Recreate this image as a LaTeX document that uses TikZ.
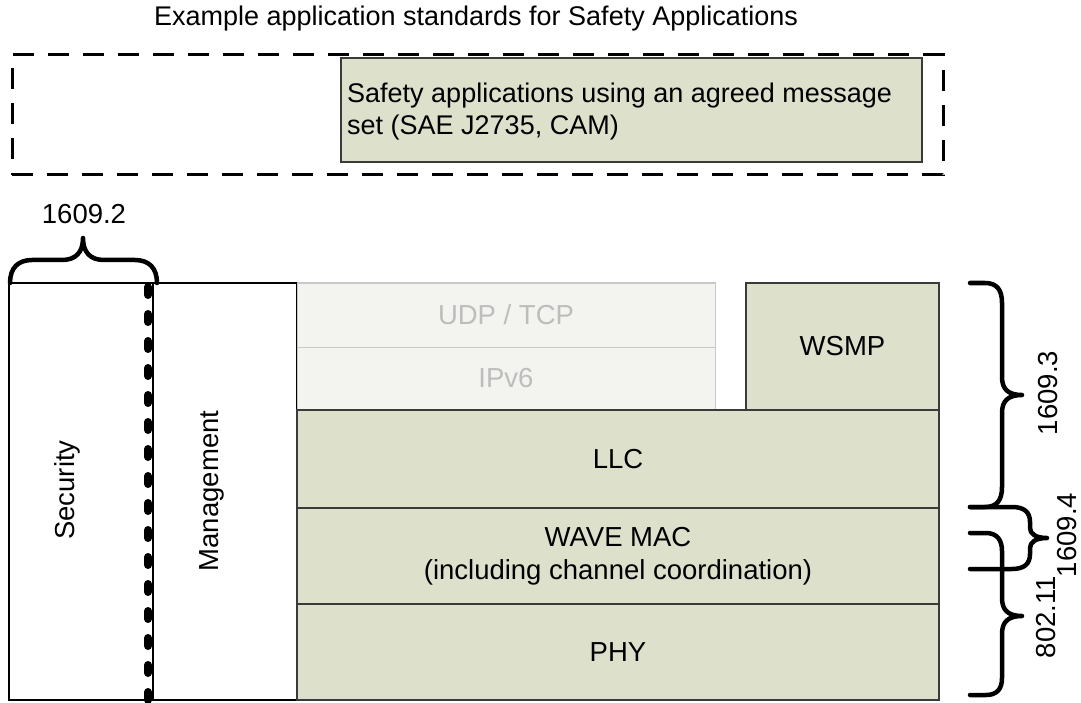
\documentclass[tikz,border=0pt]{standalone}
\usepackage{fontspec}
\setmainfont{Liberation Sans}
\definecolor{boxgreen}{HTML}{DDE1CC}
\definecolor{boxborder}{HTML}{3A3A3A}
\definecolor{lightfill}{HTML}{F3F3EF}
\definecolor{lightborder}{HTML}{C8C8C8}
\definecolor{lighttext}{HTML}{BDBDBD}
\newcommand\fsBody{\fontsize{27.5}{33}\selectfont}
\newcommand\fsApp{\fontsize{27}{32}\selectfont}
\newcommand\fsTitle{\fontsize{27}{32}\selectfont}
\begin{document}
\begin{tikzpicture}[x=1pt,y=-1pt,
  box/.style={inner sep=0pt, outer sep=0pt, anchor=north west, font=\fsBody, align=center},
  layer/.style={box, draw=boxborder, fill=boxgreen, line width=1.3pt},
  ghost/.style={box, draw=lightborder, fill=lightfill, line width=1pt, text=lighttext},
  plain/.style={box, draw=black, fill=white, line width=1.1pt},
  lbl/.style={font=\fsBody, inner sep=0pt},
  brace/.style={draw=black, line width=4.5pt, line cap=round, line join=round},
]
\useasboundingbox (0,0) rectangle (1081,703);

% title and application group
\node[font=\fsTitle, inner sep=0pt] (title) at (476,19) {Example application standards for Safety Applications};
\node[box, draw=black, line width=3pt, dash pattern=on 21pt off 14pt,
      minimum width=931pt, minimum height=120pt] (appgroup) at (12,55) {};
\node[layer, line width=1.2pt, minimum width=581pt, minimum height=104pt] (safety) at (341,58) {};
\node[font=\fsApp, inner sep=0pt, anchor=north west, align=left] (safetytxt) at (347,83)
  {Safety applications using an agreed message\\set (SAE J2735, CAM)};

% left columns
\node[plain, minimum width=144pt, minimum height=417pt] (security) at (9,283) {};
\node[plain, minimum width=144pt, minimum height=417pt] (management) at (153,283) {};
\node[lbl, rotate=90] (seclbl) at (67,490) {Security};
\node[lbl, rotate=90] (mgmtlbl) at (212,491) {Management};
\coordinate (dtop) at (148,287);
\coordinate (dbot) at (148,706);
\draw[line width=8pt, dash pattern=on 8pt off 19pt, line cap=round] (dtop) -- (dbot);

% stack
\node[ghost, minimum width=418pt, minimum height=64pt] (udp) at (297,283) {UDP / TCP};
\node[ghost, minimum width=418pt, minimum height=63pt] (ipv6) at (297,347) {IPv6};
\node[layer, minimum width=193pt, minimum height=127pt] (wsmp) at (746,283) {WSMP};
\node[layer, minimum width=642pt, minimum height=98pt] (llc) at (297,410) {LLC};
\node[layer, minimum width=642pt, minimum height=96pt] (mac) at (297,508) {WAVE MAC\\(including channel coordination)};
\node[layer, minimum width=642pt, minimum height=96pt] (phy) at (297,604) {PHY};

% 1609.2 brace
\draw[brace] (10,283) .. controls (10,268) and (18,260) .. (32,260) -- (62,260)
  .. controls (76,260) and (83,252) .. (83,238)
  .. controls (83,252) and (90,260) .. (104,260) -- (135,260)
  .. controls (149,260) and (157,268) .. (157,283);
\node[lbl] (l16092) at (84,214) {1609.2};

% right braces
\draw[brace] (970,283) -- (985,283) .. controls (997,283) and (1002,290) .. (1002,303) -- (1002,377)
  .. controls (1002,389) and (1008,395) .. (1022,395)
  .. controls (1008,395) and (1002,401) .. (1002,413) -- (1002,487)
  .. controls (1002,500) and (997,507) .. (985,507) -- (970,507);
\draw[brace] (970,507) -- (1012,507) .. controls (1024,507) and (1030,512) .. (1030,522) -- (1030,528)
  .. controls (1030,534) and (1036,538) .. (1047,538)
  .. controls (1036,538) and (1030,542) .. (1030,548) -- (1030,554)
  .. controls (1030,564) and (1024,569) .. (1012,569) -- (970,569);
\draw[brace] (970,533) -- (986,533) .. controls (997,533) and (1002,540) .. (1002,551) -- (1002,598)
  .. controls (1002,610) and (1008,616) .. (1022,616)
  .. controls (1008,616) and (1002,622) .. (1002,634) -- (1002,678)
  .. controls (1002,689) and (997,695) .. (986,695) -- (970,695);
\node[lbl, rotate=90] (l16093) at (1048,393) {1609.3};
\node[lbl, rotate=90] (l16094) at (1067,535) {1609.4};
\node[lbl, rotate=90] (l80211) at (1046,617) {802.11};
\end{tikzpicture}
\end{document}
